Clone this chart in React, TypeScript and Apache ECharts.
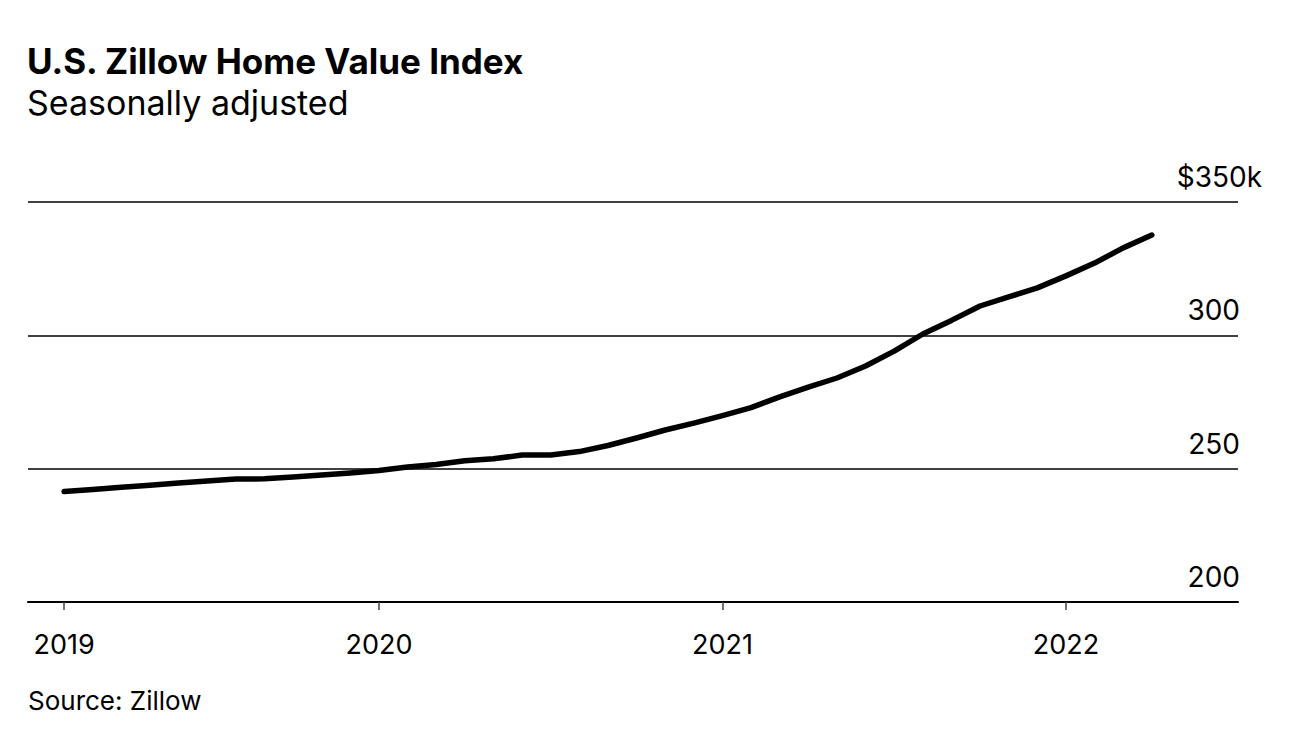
import React, { useEffect, useRef } from "react";
import * as echarts from "echarts";

// Monthly index values (thousands of USD), Feb 2019 .. Apr 2022
const monthLabels = [
  "2019-02","2019-03","2019-04","2019-05","2019-06","2019-07","2019-08","2019-09","2019-10","2019-11","2019-12",
  "2020-01","2020-02","2020-03","2020-04","2020-05","2020-06","2020-07","2020-08","2020-09","2020-10","2020-11","2020-12",
  "2021-01","2021-02","2021-03","2021-04","2021-05","2021-06","2021-07","2021-08","2021-09","2021-10","2021-11","2021-12",
  "2022-01","2022-02","2022-03","2022-04",
];
const homeValues = [
  241.4, 242.2, 243.0, 243.8, 244.6, 245.4, 246.1, 246.2, 246.9, 247.6, 248.4,
  249.3, 250.6, 251.6, 253.0, 253.7, 255.1, 255.1, 256.4, 258.7, 261.5, 264.5, 267.1,
  269.9, 272.9, 276.9, 280.6, 284.0, 288.5, 294.1, 300.5, 305.6, 311.0, 314.4, 317.8,
  322.3, 327.1, 332.8, 337.6,
];
const xTickMonths = ["2019-02", "2020-01", "2021-01", "2022-01"];
const xTickLabels = ["2019", "2020", "2021", "2022"];
const yTicks = [200, 250, 300, 350];

const FONT = "Inter, 'Liberation Sans', sans-serif";

export default function App() {
  const ref = useRef<HTMLDivElement>(null);
  useEffect(() => {
    if (!ref.current) return;
    const chart = echarts.init(ref.current, undefined, { renderer: "svg" });
    const tickIdx = xTickMonths.map((m) => monthLabels.indexOf(m));
    chart.setOption({
      animation: false,
      backgroundColor: "#ffffff",
      textStyle: { fontFamily: FONT },
      title: [
        {
          text: "U.S. Zillow Home Value Index",
          left: 27,
          top: 41,
          padding: 0,
          textStyle: { fontFamily: FONT, fontWeight: "bold", fontSize: 35, lineHeight: 40, color: "#000" },
        },
        {
          text: "Seasonally adjusted",
          left: 27,
          top: 82,
          padding: 0,
          textStyle: { fontFamily: FONT, fontWeight: "normal", fontSize: 34, lineHeight: 40, color: "#000" },
        },
        {
          text: "Source: Zillow",
          left: 28,
          top: 685,
          padding: 0,
          textStyle: { fontFamily: FONT, fontWeight: "normal", fontSize: 26, lineHeight: 30, color: "#000" },
        },
      ],
      grid: { left: 28, right: 58, top: 202, bottom: 136, containLabel: false },
      xAxis: {
        type: "value",
        min: -1.26,
        max: 41.01,
        splitLine: { show: false },
        axisLine: { show: true, lineStyle: { color: "#000", width: 2 } },
        axisTick: {
          show: true,
          customValues: tickIdx,
          length: 8,
          lineStyle: { color: "#444", width: 1.5 },
        },
        axisLabel: {
          customValues: tickIdx,
          margin: 29,
          fontFamily: FONT,
          fontSize: 27,
          color: "#000",
          formatter: (v: number) => {
            const k = tickIdx.indexOf(Math.round(v));
            return k >= 0 ? xTickLabels[k] : "";
          },
        },
      },
      yAxis: {
        type: "value",
        position: "right",
        min: yTicks[0],
        max: yTicks[yTicks.length - 1],
        interval: 50,
        axisLine: { show: false },
        axisTick: { show: false },
        splitLine: { show: true, lineStyle: { color: "#000", width: 1.5 } },
        axisLabel: {
          inside: true,
          margin: -24,
          verticalAlign: "bottom",
          align: "right",
          color: "#000",
          formatter: (v: number) =>
            v === yTicks[yTicks.length - 1] ? `{t|$${v}k}` : `{n|${v}}`,
          rich: {
            t: { fontFamily: FONT, fontSize: 28, lineHeight: 30, color: "#000", padding: [0, 0, 20, 0] },
            n: { fontFamily: FONT, fontSize: 28, lineHeight: 30, color: "#000", padding: [0, 22, 20, 0] },
          },
        },
      },
      series: [
        {
          type: "line",
          data: homeValues.map((v, i) => [i, v]),
          showSymbol: false,
          symbol: "none",
          lineStyle: { color: "#000", width: 5.5, cap: "round", join: "round" },
        },
      ],
    });
    return () => chart.dispose();
  }, []);
  return (
    <div
      ref={ref}
      style={{ position: "fixed", left: 0, top: 0, width: 1296, height: 738, background: "#fff" }}
    />
  );
}
